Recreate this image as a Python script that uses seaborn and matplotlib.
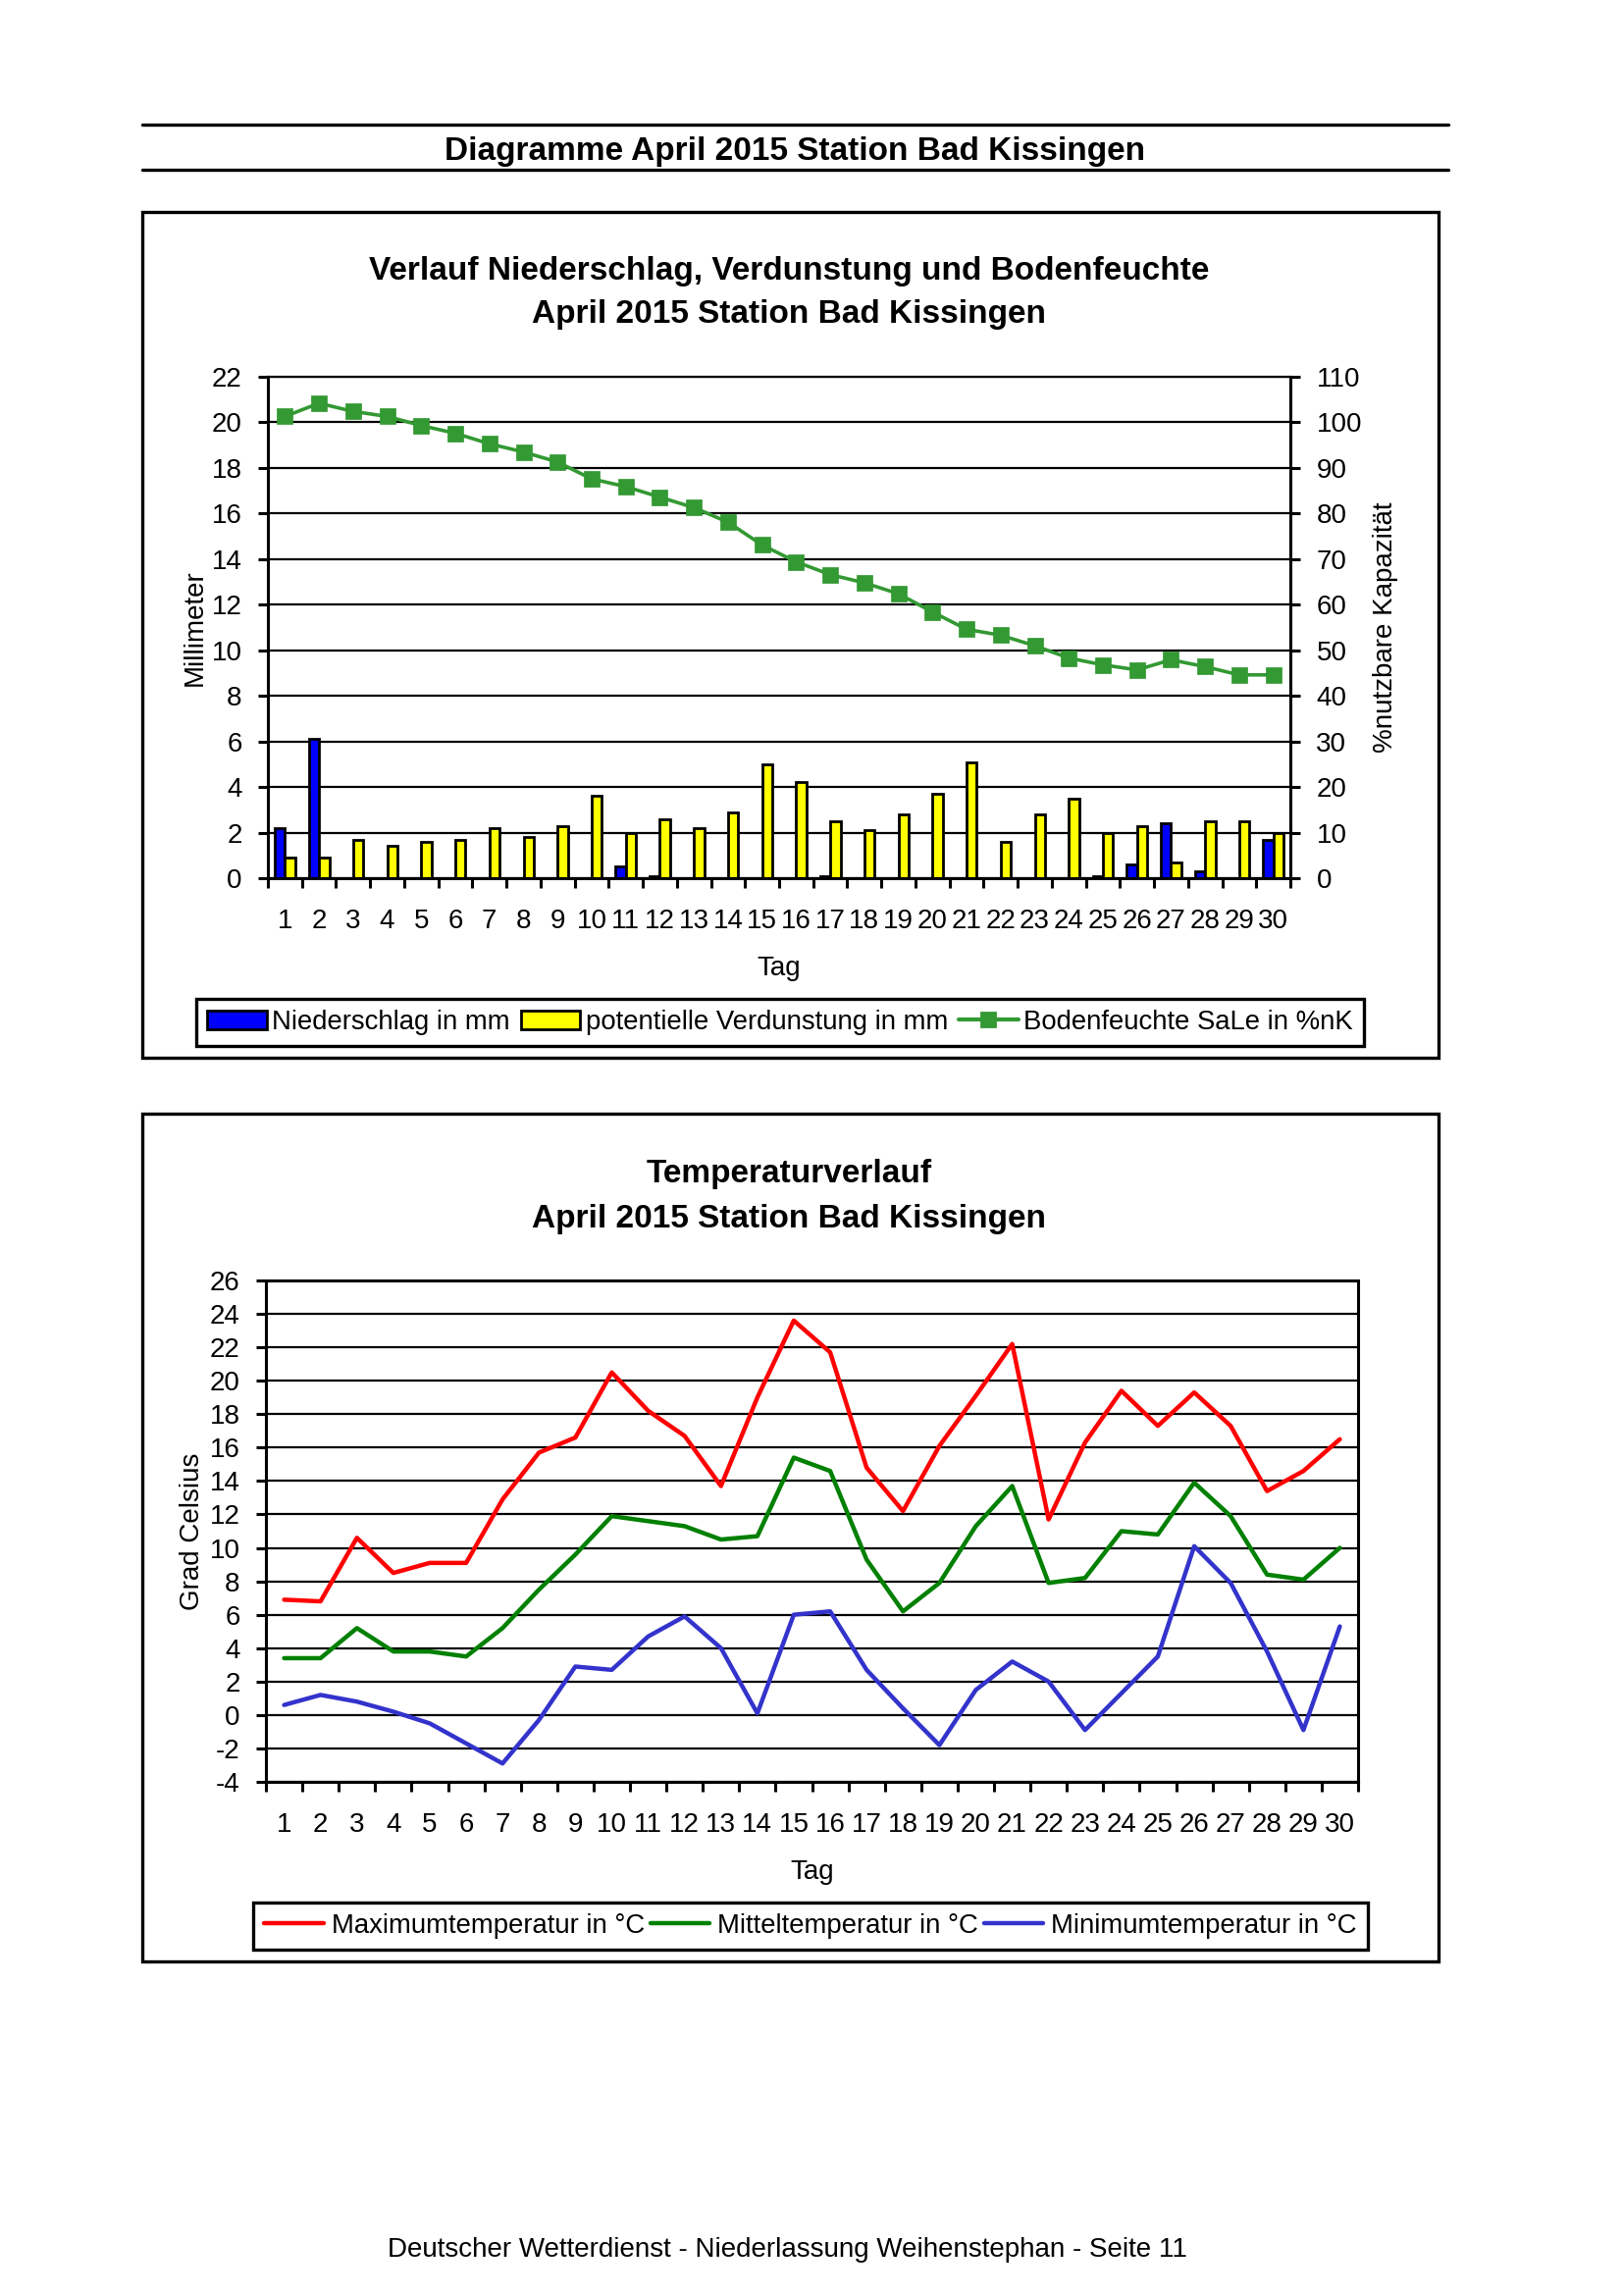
import numpy as np
import pandas as pd
import matplotlib
matplotlib.use('Agg')
import matplotlib.pyplot as plt
from matplotlib.patches import Rectangle, Patch
from matplotlib.lines import Line2D
import seaborn as sns

# Daten April 2015, Station Bad Kissingen
tage = list(range(1, 31))
niederschlag = [2.2, 6.1, 0.0, 0.0, 0.0, 0.0, 0.0, 0.0, 0.0, 0.0,
                0.5, 0.1, 0.0, 0.0, 0.0, 0.0, 0.1, 0.0, 0.0, 0.0,
                0.0, 0.0, 0.0, 0.0, 0.1, 0.6, 2.4, 0.3, 0.0, 1.7]
verdunstung = [0.9, 0.9, 1.7, 1.4, 1.6, 1.7, 2.2, 1.8, 2.3, 3.6,
               2.0, 2.6, 2.2, 2.9, 5.0, 4.2, 2.5, 2.1, 2.8, 3.7,
               5.1, 1.6, 2.8, 3.5, 2.0, 2.3, 0.7, 2.5, 2.5, 2.0]
bodenfeuchte = [101.3, 104.2, 102.4, 101.3, 99.3, 97.6, 95.3, 93.5, 91.3, 87.6,
                85.9, 83.6, 81.3, 78.1, 73.1, 69.4, 66.6, 64.8, 62.4, 58.4,
                54.6, 53.3, 51.0, 48.3, 46.8, 45.7, 47.9, 46.4, 44.6, 44.6]

t_max = [6.9, 6.8, 10.6, 8.5, 9.1, 9.1, 12.9, 15.7, 16.6, 20.5,
         18.2, 16.7, 13.7, 19.0, 23.6, 21.7, 14.8, 12.2, 16.1, 19.1,
         22.2, 11.7, 16.3, 19.4, 17.3, 19.3, 17.3, 13.4, 14.6, 16.5]
t_mittel = [3.4, 3.4, 5.2, 3.8, 3.8, 3.5, 5.2, 7.5, 9.6, 11.9,
            11.6, 11.3, 10.5, 10.7, 15.4, 14.6, 9.3, 6.2, 7.9, 11.3,
            13.7, 7.9, 8.2, 11.0, 10.8, 13.9, 11.9, 8.4, 8.1, 10.0]
t_min = [0.6, 1.2, 0.8, 0.2, -0.5, -1.7, -2.9, -0.3, 2.9, 2.7,
         4.7, 5.9, 4.0, 0.1, 6.0, 6.2, 2.7, 0.4, -1.8, 1.5,
         3.2, 2.0, -0.9, 1.3, 3.5, 10.1, 7.9, 3.8, -0.9, 5.3]

reihen_nv = ['Niederschlag in mm', 'potentielle Verdunstung in mm']
reihen_t = ['Maximumtemperatur in °C', 'Mitteltemperatur in °C', 'Minimumtemperatur in °C']

W, H = 1653, 2340
sns.set_theme(style='ticks')
plt.rcParams['font.family'] = ['Liberation Sans', 'DejaVu Sans']
plt.rcParams['axes.linewidth'] = 1.1
plt.rcParams['axes.unicode_minus'] = False
for k in ('text.color', 'axes.labelcolor', 'xtick.color', 'ytick.color', 'axes.edgecolor'):
    plt.rcParams[k] = 'black'


def rect(l, t, r, b):
    return [l / W, 1 - b / H, (r - l) / W, (b - t) / H]


fig = plt.figure(figsize=(W / 200, H / 200), dpi=200)
fig.patch.set_facecolor('white')

# Kopfzeile
for y in (127, 173):
    fig.add_artist(Line2D([145 / W, 1476 / W], [1 - y / H] * 2, color='black', lw=1.2))
fig.text(810 / W, 1 - 155 / H, 'Diagramme April 2015 Station Bad Kissingen',
         ha='center', va='center', fontsize=12, fontweight='bold')

# Rahmen um die beiden Diagramme
for (l, t, r, b) in [(145, 216, 1466, 1078), (145, 1135, 1466, 1999)]:
    fig.add_artist(Rectangle((l / W, 1 - b / H), (r - l) / W, (b - t) / H, fill=False,
                             lw=1.2, edgecolor='black', transform=fig.transFigure))

# ---------- Diagramm 1: Niederschlag, Verdunstung, Bodenfeuchte ----------
df1 = pd.DataFrame({
    'Tag': tage * 2,
    'Wert': niederschlag + verdunstung,
    'Reihe': [reihen_nv[0]] * 30 + [reihen_nv[1]] * 30,
})

ax1 = fig.add_axes(rect(273, 384, 1315, 895))
sns.barplot(data=df1, x='Tag', y='Wert', hue='Reihe', hue_order=reihen_nv,
            palette=['#0000ff', '#ffff00'], width=0.6, saturation=1,
            edgecolor='black', linewidth=1.0, legend=False, ax=ax1)
ax2 = ax1.twinx()
sns.pointplot(x=tage, y=bodenfeuchte, color='#339933', marker='s', markersize=5,
              linewidth=1.3, errorbar=None, ax=ax2)

ax1.set_ylim(0, 22)
ax1.set_yticks(np.arange(0, 23, 2))
ax2.set_ylim(0, 110)
ax2.set_yticks(np.arange(0, 111, 10))
ax1.set_xlim(-0.5, 29.5)
ax1.set_xticks(np.arange(30))
ax1.set_xticklabels([str(t) for t in tage])
ax1.set_xticks(np.arange(-0.5, 30, 1), minor=True)
ax1.yaxis.grid(True, color='black', lw=0.8)
ax1.set_axisbelow(True)
ax1.tick_params(axis='x', which='major', length=0, pad=11, labelsize=10)
ax1.tick_params(axis='x', which='minor', length=3.5, width=1.1, color='black')
ax1.tick_params(axis='y', length=3.5, width=1.1, color='black', labelsize=10, pad=6)
ax2.tick_params(axis='y', length=3.5, width=1.1, color='black', labelsize=10, pad=6)
ax1.set_xlabel('Tag', fontsize=10, labelpad=8)
ax1.set_ylabel('Millimeter', fontsize=10, labelpad=1.5)
ax2.set_ylabel('%nutzbare Kapazität', fontsize=10, labelpad=4)
ax2.set_xlabel('')
ax1.spines['right'].set_visible(False)
ax1.spines['top'].set_linewidth(0.8)
for s in ('top', 'left', 'bottom'):
    ax2.spines[s].set_visible(False)
ax2.spines['right'].set_visible(True)

fig.text(804 / W, 1 - 277 / H, 'Verlauf Niederschlag, Verdunstung und Bodenfeuchte',
         ha='center', va='center', fontsize=12, fontweight='bold')
fig.text(804 / W, 1 - 320 / H, 'April 2015 Station Bad Kissingen',
         ha='center', va='center', fontsize=12, fontweight='bold')

h1 = [Patch(facecolor='#0000ff', edgecolor='black', lw=1.0, label=reihen_nv[0]),
      Patch(facecolor='#ffff00', edgecolor='black', lw=1.0, label=reihen_nv[1]),
      Line2D([0], [0], color='#339933', marker='s', markersize=5, lw=1.5,
             label='Bodenfeuchte SaLe in %nK')]
leg1 = fig.legend(handles=h1, loc='center', bbox_to_anchor=(795 / W, 1 - 1042 / H), ncol=3,
                  fontsize=9.9, frameon=True, fancybox=False, edgecolor='black', framealpha=1,
                  handlelength=2.2, handletextpad=0.2, columnspacing=0.4, borderpad=0.4)
leg1.get_frame().set_linewidth(1.2)

# ---------- Diagramm 2: Temperaturverlauf ----------
df2 = pd.DataFrame({
    'Tag': tage * 3,
    'Temp': t_max + t_mittel + t_min,
    'Reihe': [reihen_t[0]] * 30 + [reihen_t[1]] * 30 + [reihen_t[2]] * 30,
})
farben_t = ['#ff0000', '#008000', '#3333cc']

ax3 = fig.add_axes(rect(271, 1305, 1384, 1816))
sns.lineplot(data=df2, x='Tag', y='Temp', hue='Reihe', hue_order=reihen_t,
             palette=farben_t, linewidth=1.6, legend=False, ax=ax3)
ax3.set_xlim(0.5, 30.5)
ax3.set_ylim(-4, 26)
ax3.set_yticks(np.arange(-4, 27, 2))
ax3.set_xticks(tage)
ax3.set_xticks(np.arange(0.5, 31, 1), minor=True)
ax3.yaxis.grid(True, color='black', lw=0.8)
ax3.set_axisbelow(True)
ax3.tick_params(axis='x', which='major', length=0, pad=11, labelsize=10)
ax3.tick_params(axis='x', which='minor', length=3.5, width=1.1, color='black')
ax3.tick_params(axis='y', length=3.5, width=1.1, color='black', labelsize=10, pad=6)
ax3.set_xlabel('Tag', fontsize=10, labelpad=8)
ax3.set_ylabel('Grad Celsius', fontsize=10, labelpad=1.5)
for s in ax3.spines.values():
    s.set_visible(True)
    s.set_color('black')

fig.text(804 / W, 1 - 1197 / H, 'Temperaturverlauf',
         ha='center', va='center', fontsize=12, fontweight='bold')
fig.text(804 / W, 1 - 1242 / H, 'April 2015 Station Bad Kissingen',
         ha='center', va='center', fontsize=12, fontweight='bold')

h2 = [Line2D([0], [0], color=c, lw=1.6, label=r) for c, r in zip(farben_t, reihen_t)]
leg2 = fig.legend(handles=h2, loc='center', bbox_to_anchor=(826 / W, 1 - 1963 / H), ncol=3,
                  fontsize=9.9, frameon=True, fancybox=False, edgecolor='black', framealpha=1,
                  handlelength=2.2, handletextpad=0.3, columnspacing=0.2, borderpad=0.4)
leg2.get_frame().set_linewidth(1.2)

fig.text(802 / W, 1 - 2293 / H, 'Deutscher Wetterdienst - Niederlassung Weihenstephan - Seite 11',
         ha='center', va='center', fontsize=10)

fig.savefig('out.png', dpi=200)
